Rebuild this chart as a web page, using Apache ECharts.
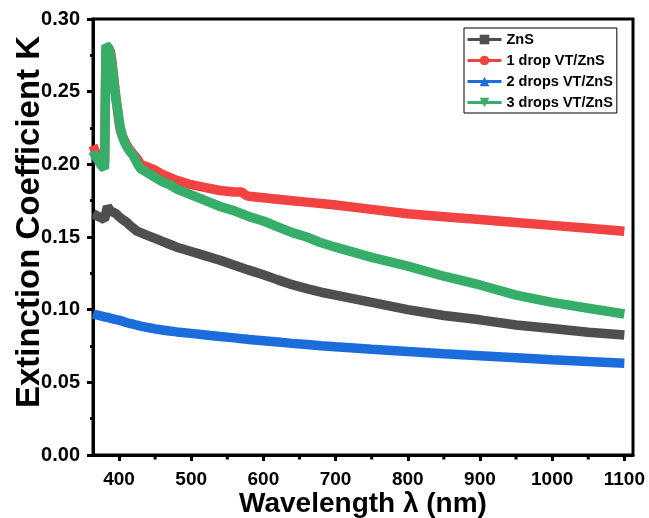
<!DOCTYPE html>
<html>
<head>
<meta charset="utf-8">
<script src="https://cdn.jsdelivr.net/npm/echarts@6/dist/echarts.min.js"></script>
<style>html,body{margin:0;padding:0;background:#fff;}#c{width:649px;height:518px;}</style>
</head>
<body>
<div id="c"></div>
<script>
var wavelength = [364, 368, 372, 376, 380, 382, 384, 386, 388, 390, 392, 394, 396, 398, 400, 402, 405, 408, 411, 415, 420, 425, 430, 440, 450, 460, 470, 480, 500, 520, 540, 560, 570, 575, 580, 600, 620, 640, 660, 680, 700, 750, 800, 850, 900, 950, 1000, 1050, 1100];

var znsK = [0.166, 0.165, 0.164, 0.163, 0.162, 0.163, 0.171, 0.170, 0.168, 0.167, 0.167, 0.166, 0.166, 0.165, 0.164, 0.163, 0.162, 0.161, 0.160, 0.158, 0.156, 0.154, 0.153, 0.151, 0.149, 0.147, 0.145, 0.143, 0.140, 0.137, 0.134, 0.1305, 0.1288, 0.128, 0.1272, 0.124, 0.1205, 0.1172, 0.1145, 0.112, 0.110, 0.105, 0.100, 0.096, 0.093, 0.0895, 0.087, 0.0845, 0.0825];

var drop1K = [0.213, 0.208, 0.205, 0.202, 0.201, 0.278, 0.280, 0.280, 0.278, 0.272, 0.263, 0.254, 0.245, 0.237, 0.229, 0.223, 0.219, 0.216, 0.213, 0.210, 0.207, 0.204, 0.200, 0.198, 0.196, 0.193, 0.191, 0.189, 0.186, 0.184, 0.182, 0.181, 0.181, 0.179, 0.178, 0.177, 0.176, 0.175, 0.174, 0.173, 0.172, 0.169, 0.166, 0.164, 0.162, 0.160, 0.158, 0.156, 0.154];

var drops2K = [0.097, 0.0965, 0.096, 0.0955, 0.095, 0.095, 0.0948, 0.0945, 0.0942, 0.094, 0.0937, 0.0935, 0.0932, 0.093, 0.0928, 0.0925, 0.092, 0.0915, 0.091, 0.0905, 0.090, 0.0893, 0.0887, 0.0877, 0.0868, 0.086, 0.0853, 0.0847, 0.0837, 0.0826, 0.0815, 0.0806, 0.080, 0.0798, 0.0795, 0.0786, 0.0777, 0.0768, 0.076, 0.0752, 0.0745, 0.0728, 0.0712, 0.0697, 0.0683, 0.0669, 0.0655, 0.0643, 0.0632];

var drops3K = [0.209, 0.205, 0.202, 0.199, 0.197, 0.282, 0.281, 0.280, 0.276, 0.269, 0.261, 0.252, 0.244, 0.238, 0.231, 0.225, 0.219, 0.215, 0.212, 0.209, 0.206, 0.201, 0.197, 0.194, 0.191, 0.188, 0.186, 0.183, 0.179, 0.175, 0.171, 0.168, 0.166, 0.165, 0.164, 0.161, 0.157, 0.153, 0.150, 0.146, 0.143, 0.136, 0.130, 0.123, 0.117, 0.110, 0.105, 0.101, 0.097];

var seriesNames = ['ZnS', '1 drop VT/ZnS', '2 drops VT/ZnS', '3 drops VT/ZnS'];
var xMajorTicks = [400, 500, 600, 700, 800, 900, 1000, 1100];
var xMinorTicks = [450, 550, 650, 750, 850, 950, 1050];

var FONT = 'Liberation Sans, Arial, sans-serif';
function pairs(vals) { return wavelength.map(function (w, i) { return [w, vals[i]]; }); }
function lineSeries(name, vals, color, symbol, rotate) {
  return {
    name: name, type: 'line', data: pairs(vals),
    symbol: symbol, symbolRotate: rotate || 0, showSymbol: false, symbolSize: 9,
    lineStyle: { color: color, width: 9.5 }, itemStyle: { color: color },
    z: 2
  };
}

var chart = echarts.init(document.getElementById('c'), null, { renderer: 'canvas' });
chart.setOption({
  animation: false,
  backgroundColor: '#fff',
  grid: { left: 93, right: 16, top: 19, bottom: 63, containLabel: false, outerBoundsMode: 'none',
    show: true, borderColor: '#000', borderWidth: 3, backgroundColor: 'transparent' },
  legend: {
    orient: 'vertical', left: 464, top: 28,
    padding: [4, 4, 3, 2], itemGap: 6, itemWidth: 34, itemHeight: 12,
    borderColor: '#000', borderWidth: 1, backgroundColor: '#fff',
    textStyle: { fontFamily: FONT, fontWeight: 'bold', fontSize: 14.5, color: '#000', lineHeight: 14 },
    lineStyle: { width: 3 },
    data: seriesNames
  },
  xAxis: {
    type: 'value', min: 364, max: 1112,
    name: 'Wavelength λ (nm)', nameLocation: 'middle', nameGap: 35, nameMoveOverlap: false,
    nameTextStyle: { fontFamily: FONT, fontWeight: 'bold', fontSize: 28, color: '#000' },
    axisLine: { show: true, lineStyle: { color: '#000', width: 3 } },
    axisTick: { show: true, customValues: xMajorTicks, length: 6, lineStyle: { color: '#000', width: 3 } },
    axisLabel: { customValues: xMajorTicks, margin: 15, fontFamily: FONT, fontWeight: 'bold', fontSize: 19, color: '#000',
      formatter: function (v) { return String(v); } },
    splitLine: { show: false }
  },
  yAxis: {
    type: 'value', min: 0, max: 0.30, interval: 0.05,
    name: 'Extinction Coefficient K', nameLocation: 'middle', nameGap: 47, nameMoveOverlap: false,
    nameTextStyle: { fontFamily: FONT, fontWeight: 'bold', fontSize: 33, color: '#000', padding: [0, 0, 0, 30] },
    axisLine: { show: true, lineStyle: { color: '#000', width: 3 } },
    axisTick: { show: true, length: 6, lineStyle: { color: '#000', width: 3 } },
    minorTick: { show: true, splitNumber: 2, length: 3, lineStyle: { color: '#000', width: 3 } },
    axisLabel: { margin: 13, fontFamily: FONT, fontWeight: 'bold', fontSize: 20, color: '#000',
      formatter: function (v) { return v.toFixed(2); } },
    splitLine: { show: false }
  },
  series: [
    lineSeries(seriesNames[0], znsK, '#4f4f4f', 'rect'),
    lineSeries(seriesNames[1], drop1K, '#f24242', 'circle'),
    lineSeries(seriesNames[2], drops2K, '#1a6ddb', 'triangle'),
    lineSeries(seriesNames[3], drops3K, '#36ae6a', 'triangle', 180),
    {
      type: 'custom', name: 'minorTicks', silent: true, clip: false, z: 5,
      data: xMinorTicks.map(function (v) { return [v, 0]; }),
      renderItem: function (params, api) {
        var p = api.coord([api.value(0), 0]);
        return { type: 'line', shape: { x1: p[0], y1: p[1] + 1.5, x2: p[0], y2: p[1] + 4.5 }, style: { stroke: '#000', lineWidth: 3 } };
      }
    }
  ]
});
</script>
</body>
</html>
